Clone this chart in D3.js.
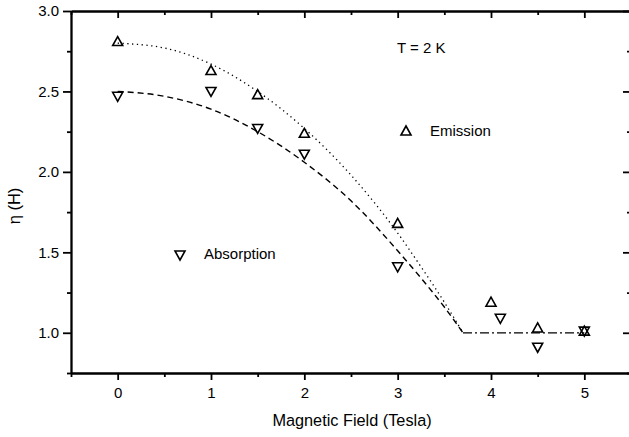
<!DOCTYPE html>
<html>
<head>
<meta charset="utf-8">
<script src="https://cdn.jsdelivr.net/npm/d3@7"></script>
<style>
	body { margin: 0; background: #fff; }
	svg { display: block; font-family: "Liberation Sans", Arial, sans-serif; }
	.axis path, .axis line { stroke: #000; stroke-width: 1.8; }
	.axis text { font-size: 15px; fill: #000; font-family: "Liberation Sans", Arial, sans-serif; }
</style>
</head>
<body>
<svg id="chart" width="629" height="437"></svg>
<script>
// measured points
const emissionX = [0, 1, 1.5, 2, 3, 4, 4.5, 5];
const emissionY = [2.81, 2.63, 2.48, 2.24, 1.68, 1.19, 1.03, 1.01];
const absorptionX = [0, 1, 1.5, 2, 3, 4.1, 4.5, 5];
const absorptionY = [2.47, 2.50, 2.27, 2.11, 1.41, 1.09, 0.91, 1.01];

// fitted curves
const fitX = [0, 0.5, 1, 1.5, 2, 2.5, 3, 3.25, 3.5, 3.7];
const emissionFit = [2.80, 2.77, 2.67, 2.50, 2.27, 1.98, 1.62, 1.41, 1.19, 1.00];
const absorptionFit = [2.50, 2.47, 2.39, 2.25, 2.06, 1.82, 1.51, 1.34, 1.16, 1.00];
const flatX = [3.7, 5.0];
const flatY = [1.0, 1.0];

const xTicks = [0, 1, 2, 3, 4, 5];
const xMinor = [-0.5, 0.5, 1.5, 2.5, 3.5, 4.5, 5.5];
const yTicks = [1.0, 1.5, 2.0, 2.5, 3.0];
const yMinor = [0.75, 1.25, 1.75, 2.25, 2.75];

const svg = d3.select('#chart');
const x = d3.scaleLinear().domain([-0.5, 5.5]).range([71, 631]);
const y = d3.scaleLinear().domain([0.75, 3.0]).range([373, 11]);

// axes
svg.append('g').attr('class', 'axis').attr('transform', `translate(0,${y(0.75)})`)
	.call(d3.axisBottom(x).tickValues(xTicks).tickSize(7).tickSizeOuter(0).tickPadding(7).tickFormat(d3.format('d')));
svg.append('g').attr('class', 'axis').attr('transform', `translate(0,${y(0.75)})`)
	.call(d3.axisBottom(x).tickValues(xMinor).tickSize(4).tickSizeOuter(0).tickFormat(''));
svg.append('g').attr('class', 'axis').attr('transform', `translate(0,${y(3.0)})`)
	.call(d3.axisTop(x).tickValues(xTicks).tickSize(-7).tickSizeOuter(0).tickFormat(''));
svg.append('g').attr('class', 'axis').attr('transform', `translate(0,${y(3.0)})`)
	.call(d3.axisTop(x).tickValues(xMinor).tickSize(-4).tickSizeOuter(0).tickFormat(''));

svg.append('g').attr('class', 'axis').attr('transform', `translate(${x(-0.5)},0)`)
	.call(d3.axisLeft(y).tickValues(yTicks).tickSize(8).tickSizeOuter(0).tickPadding(4).tickFormat(d3.format('.1f')));
svg.append('g').attr('class', 'axis').attr('transform', `translate(${x(-0.5)},0)`)
	.call(d3.axisLeft(y).tickValues(yMinor).tickSize(4).tickSizeOuter(0).tickFormat(''));
svg.append('g').attr('class', 'axis').attr('transform', `translate(${x(5.5)},0)`)
	.call(d3.axisRight(y).tickValues(yTicks).tickSize(-8).tickSizeOuter(0).tickFormat(''));
svg.append('g').attr('class', 'axis').attr('transform', `translate(${x(5.5)},0)`)
	.call(d3.axisRight(y).tickValues(yMinor).tickSize(-4).tickSizeOuter(0).tickFormat(''));

// curves
const line = d3.line().x(d => x(d[0])).y(d => y(d[1])).curve(d3.curveMonotoneX);
svg.append('path').datum(d3.zip(fitX, emissionFit)).attr('d', line)
	.attr('fill', 'none').attr('stroke', '#000').attr('stroke-width', 1.3).attr('stroke-dasharray', '1.3,3.5');
svg.append('path').datum(d3.zip(fitX, absorptionFit)).attr('d', line)
	.attr('fill', 'none').attr('stroke', '#000').attr('stroke-width', 1.4).attr('stroke-dasharray', '6,4');
svg.append('path').datum(d3.zip(flatX, flatY)).attr('d', line)
	.attr('fill', 'none').attr('stroke', '#000').attr('stroke-width', 1.3).attr('stroke-dasharray', '9,3,2,3');

// triangle markers
const up = 'M0,-5L5,4L-5,4Z';
const down = 'M0,5L5,-4L-5,-4Z';
function markers(xs, ys, shape) {
	svg.append('g').selectAll('path')
		.data(d3.zip(xs, ys))
		.enter()
		.append('path')
			.attr('d', shape)
			.attr('transform', d => `translate(${x(d[0])},${y(d[1])})`)
			.attr('fill', 'none').attr('stroke', '#000').attr('stroke-width', 1.6);
}
markers(emissionX, emissionY, up);
markers(absorptionX, absorptionY, down);

// legend and annotations
svg.append('text').attr('x', 397).attr('y', 53).attr('font-size', 15).text('T = 2 K');
svg.append('path').attr('d', up).attr('transform', 'translate(406,131)')
	.attr('fill', 'none').attr('stroke', '#000').attr('stroke-width', 1.6);
svg.append('text').attr('x', 430).attr('y', 136).attr('font-size', 15).text('Emission');
svg.append('path').attr('d', down).attr('transform', 'translate(180,255)')
	.attr('fill', 'none').attr('stroke', '#000').attr('stroke-width', 1.6);
svg.append('text').attr('x', 204).attr('y', 259).attr('font-size', 15).text('Absorption');

// axis titles
svg.append('text').attr('x', 352).attr('y', 426).attr('text-anchor', 'middle')
	.attr('font-size', 16.3).text('Magnetic Field (Tesla)');
svg.append('text').attr('transform', 'translate(20,206) rotate(-90)').attr('text-anchor', 'middle')
	.attr('font-size', 16.5).text('η (H)');
</script>
</body>
</html>
